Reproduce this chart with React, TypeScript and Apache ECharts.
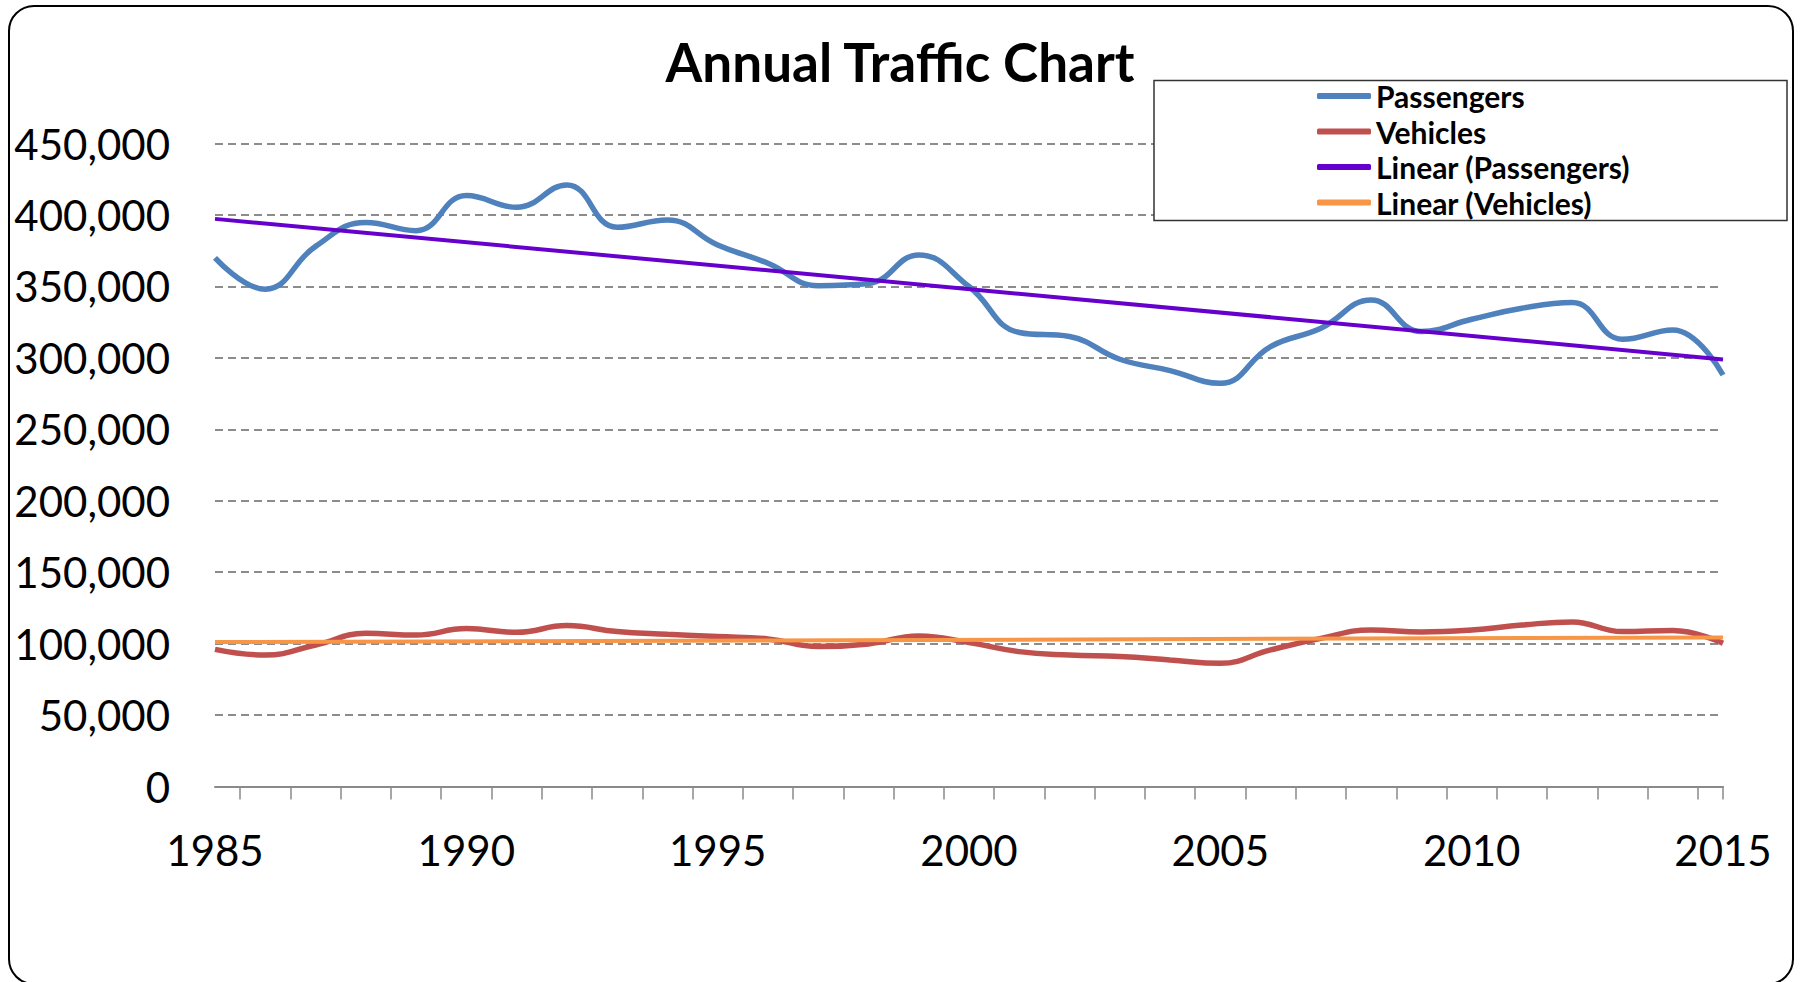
import React, { useEffect, useRef } from "react";
import * as echarts from "echarts";

const years = [
  1985, 1986, 1987, 1988, 1989, 1990, 1991, 1992, 1993, 1994, 1995, 1996, 1997, 1998, 1999, 2000,
  2001, 2002, 2003, 2004, 2005, 2006, 2007, 2008, 2009, 2010, 2011, 2012, 2013, 2014, 2015,
];

const passengers = [
  370000, 348000, 378000, 394700, 389000, 413600, 405400, 421000, 391400, 396500, 379000, 366200,
  350500, 352000, 372000, 349900, 317700, 314900, 299000, 291100, 282200, 307900, 320700, 340500,
  318400, 327000, 334700, 338700, 313000, 319500, 288000,
];

const vehicles = [
  96000, 92000, 99000, 107200, 106000, 110500, 107900, 112600, 108400, 106500, 104900, 103300,
  97900, 99800, 105400, 100700, 94400, 92000, 90900, 88600, 86200, 95600, 103700, 109600,
  108200, 109600, 113000, 115200, 108400, 109100, 100200,
];

const seriesNames = ["Passengers", "Vehicles", "Linear (Passengers)", "Linear (Vehicles)"];
const seriesColors = ["#4F81BD", "#C0504D", "#6600CC", "#F79646"];
const yTicks = { min: 0, max: 450000, interval: 50000 };
const xLabelStep = 5;

function linearFit(xs: number[], ys: number[]) {
  const n = xs.length;
  const mx = xs.reduce((a, b) => a + b, 0) / n;
  const my = ys.reduce((a, b) => a + b, 0) / n;
  let sxy = 0;
  let sxx = 0;
  for (let i = 0; i < n; i++) {
    sxy += (xs[i] - mx) * (ys[i] - my);
    sxx += (xs[i] - mx) * (xs[i] - mx);
  }
  const slope = sxy / sxx;
  const x0 = xs[0];
  const x1 = xs[n - 1];
  return [
    [x0, my + slope * (x0 - mx)],
    [x1, my + slope * (x1 - mx)],
  ];
}

export default function App() {
  const ref = useRef<HTMLDivElement>(null);

  useEffect(() => {
    if (!ref.current) return;
    const chart = echarts.init(ref.current, null, { renderer: "svg" });
    const font = "Lato";
    const pairs = (vals: number[]) => years.map((y, i) => [y, vals[i]]);
    const tickValues = years.slice(0, -1).map((y) => y + 0.5).concat([years[years.length - 1]]);

    const option: any = {
      animation: false,
      backgroundColor: "#ffffff",
      title: {
        text: "Annual Traffic Chart",
        left: "center",
        top: 30,
        textStyle: { fontFamily: font, fontWeight: "bold", fontSize: 53, color: "#000" },
      },
      legend: {
        orient: "vertical",
        left: 1317,
        top: 80,
        padding: 0,
        itemWidth: 54,
        itemHeight: 6,
        itemGap: 3.5,
        icon: "roundRect",
        z: 10,
        data: seriesNames,
        textStyle: {
          fontFamily: font,
          fontWeight: "bold",
          fontSize: 30,
          lineHeight: 32,
          color: "#000",
        },
      },
      graphic: [
        {
          type: "rect",
          z: 0,
          shape: { x: 9, y: 6, width: 1784, height: 978, r: 25 },
          style: { fill: "none", stroke: "#000", lineWidth: 2 },
        },
        {
          type: "rect",
          z: 5,
          shape: { x: 1154, y: 80.5, width: 633, height: 140 },
          style: { fill: "#fff", stroke: "#333", lineWidth: 1.5 },
        },
      ],
      grid: { left: 215, right: 77, top: 143.5, bottom: 195.5, containLabel: false },
      xAxis: {
        type: "value",
        min: years[0],
        max: years[years.length - 1],
        interval: xLabelStep,
        splitLine: { show: false },
        axisLine: { show: true, lineStyle: { color: "#8a8a8a", width: 2 } },
        axisTick: {
          show: true,
          customValues: tickValues,
          length: 13,
          lineStyle: { color: "#8a8a8a", width: 1.5 },
        },
        axisLabel: {
          margin: 42,
          fontFamily: font,
          fontSize: 42,
          color: "#000",
          formatter: (v: number) => String(v),
        },
      },
      yAxis: {
        type: "value",
        min: yTicks.min,
        max: yTicks.max,
        interval: yTicks.interval,
        axisLine: { show: false },
        axisTick: { show: false },
        splitLine: { show: true, lineStyle: { color: "#8c8c8c", width: 2, type: [8, 5] } },
        axisLabel: {
          margin: 45,
          fontFamily: font,
          fontSize: 42,
          color: "#000",
          formatter: (v: number) => v.toLocaleString("en-US"),
        },
      },
      series: [
        {
          name: seriesNames[0],
          type: "line",
          data: pairs(passengers),
          smooth: 0.45,
          showSymbol: false,
          symbol: "none",
          lineStyle: { color: seriesColors[0], width: 5.5 },
          itemStyle: { color: seriesColors[0] },
          z: 2,
        },
        {
          name: seriesNames[1],
          type: "line",
          data: pairs(vehicles),
          smooth: 0.45,
          showSymbol: false,
          symbol: "none",
          lineStyle: { color: seriesColors[1], width: 5.5 },
          itemStyle: { color: seriesColors[1] },
          z: 2,
        },
        {
          name: seriesNames[2],
          type: "line",
          data: linearFit(years, passengers),
          showSymbol: false,
          symbol: "none",
          lineStyle: { color: seriesColors[2], width: 4 },
          itemStyle: { color: seriesColors[2] },
          z: 3,
        },
        {
          name: seriesNames[3],
          type: "line",
          data: linearFit(years, vehicles),
          showSymbol: false,
          symbol: "none",
          lineStyle: { color: seriesColors[3], width: 4 },
          itemStyle: { color: seriesColors[3] },
          z: 3,
        },
      ],
    };
    chart.setOption(option);
    return () => chart.dispose();
  }, []);

  return (
    <div
      ref={ref}
      style={{ position: "fixed", left: 0, top: 0, width: 1800, height: 982, background: "#fff" }}
    />
  );
}
